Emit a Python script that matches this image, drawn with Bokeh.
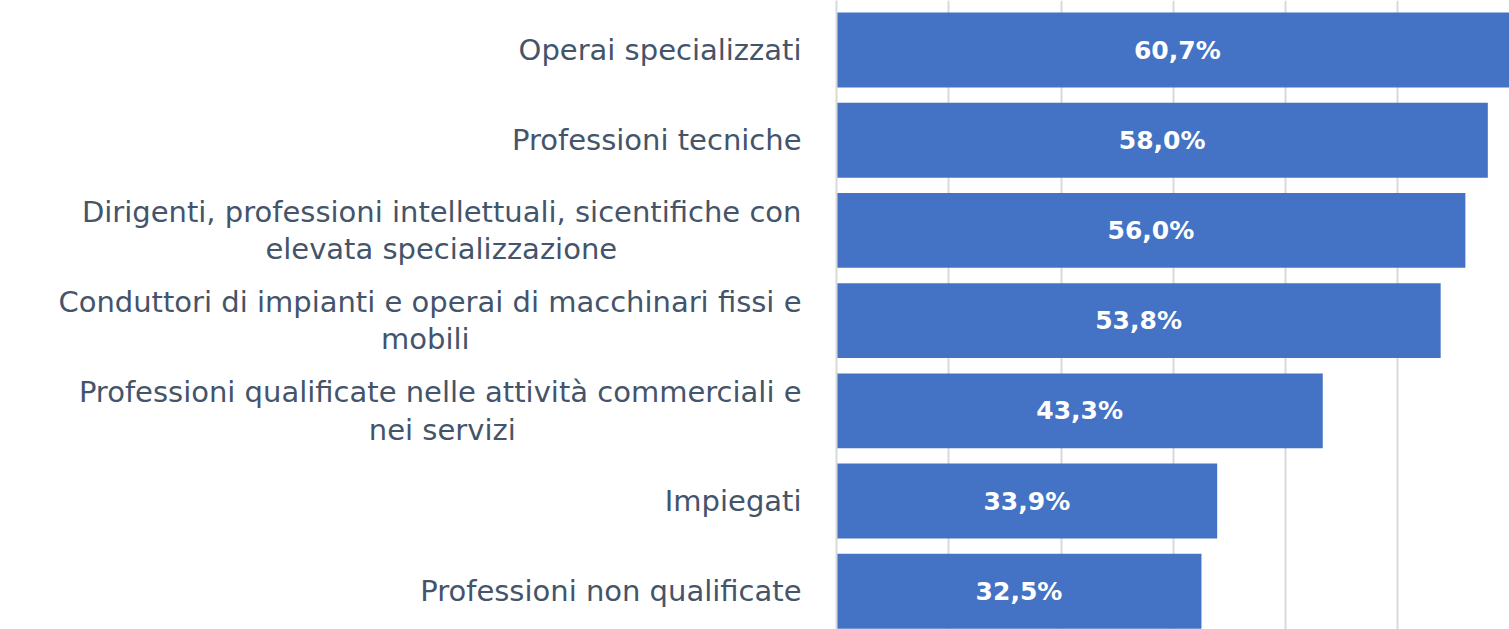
from bokeh.plotting import figure
from bokeh.models import ColumnDataSource, FixedTicker, SingleIntervalTicker, Range1d
from bokeh.core.properties import value
from bokeh.embed import file_html
from bokeh.resources import INLINE

# category labels as lines (wrapped like the original)
category_lines = [
    ["Operai specializzati"],
    ["Professioni tecniche"],
    ["Dirigenti, professioni intellettuali, sicentifiche con", "elevata specializzazione"],
    ["Conduttori di impianti e operai di macchinari fissi e", "mobili"],
    ["Professioni qualificate nelle attività commerciali e", "nei servizi"],
    ["Impiegati"],
    ["Professioni non qualificate"],
]
values = [60.7, 58.0, 56.0, 53.8, 43.3, 33.9, 32.5]

# trailing padding (in spaces) to visually centre the wrapped second line
line2_pad = [0, 0, 20, 36, 31, 0, 0]

n = len(category_lines)
ypos = [n - 1 - i for i in range(n)]
display_labels = []
for lines, pad in zip(category_lines, line2_pad):
    if len(lines) > 1:
        display_labels.append(lines[0] + "\n" + lines[1] + " " * pad)
    else:
        display_labels.append(lines[0])

labels = [f"{v:.1f}%".replace(".", ",") for v in values]
mid = [v / 2 for v in values]

src = ColumnDataSource(dict(y=ypos, v=values, mid=mid, lab=labels))

p = figure(width=1509, height=629, output_backend="svg", toolbar_location=None,
           x_range=Range1d(0, 59.93), y_range=Range1d(-0.424, 6.549),
           min_border_left=836, min_border_right=0, min_border_top=0, min_border_bottom=0)
p.outline_line_color = None
p.background_fill_color = "white"

p.hbar(y="y", right="v", left=0, height=0.83, source=src,
       fill_color="#4472C4", line_color=None)

p.text(x="mid", y="y", text="lab", source=src, text_align="center", text_baseline="middle",
       text_color="white", text_font=value("DejaVu Sans"), text_font_style="bold",
       text_font_size="25px")

p.xaxis.visible = False
p.xgrid.ticker = SingleIntervalTicker(interval=10)
p.xgrid.grid_line_color = "#D9D9D9"
p.xgrid.grid_line_width = 2
p.ygrid.grid_line_color = None

ax = p.yaxis[0]
ax.ticker = FixedTicker(ticks=ypos)
ax.major_label_overrides = {y: c for y, c in zip(ypos, display_labels)}
ax.major_tick_line_color = None
ax.minor_tick_line_color = None
ax.major_tick_out = 0
ax.major_tick_in = 0
ax.major_label_standoff = 35
ax.axis_line_color = "#D9D9D9"
ax.axis_line_width = 2
ax.major_label_text_font = "DejaVu Sans"
ax.major_label_text_font_size = "29px"
ax.major_label_text_line_height = 1.1
ax.major_label_text_color = "#44546A"

open("out.html", "w").write(file_html(p, INLINE))
